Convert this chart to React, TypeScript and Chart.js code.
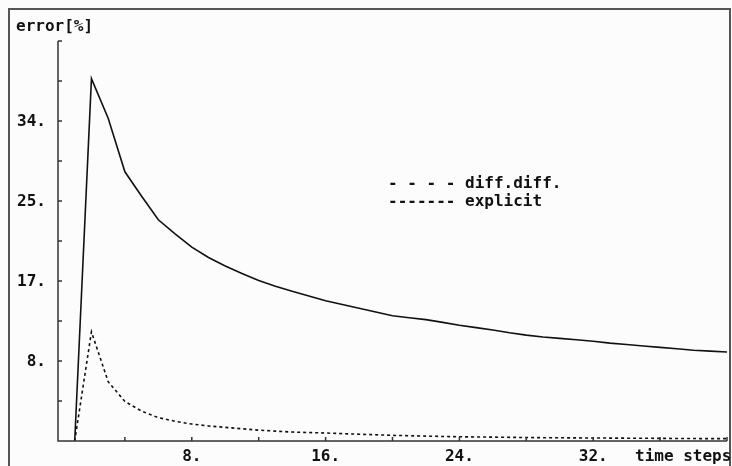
import React, { useEffect, useRef } from "react";
import { Chart, registerables } from "chart.js";

Chart.register(...registerables);

const timeSteps = [
  1, 2, 3, 4, 5, 6, 7, 8, 9, 10, 11, 12, 13, 14, 15, 16, 17, 18, 19, 20,
  21, 22, 23, 24, 25, 26, 27, 28, 29, 30, 31, 32, 33, 34, 35, 36, 37, 38, 39, 40,
];

const explicitError = [
  0, 38.5, 34.3, 28.6, 26.0, 23.5, 22.0, 20.6, 19.5, 18.6,
  17.8, 17.05, 16.45, 15.9, 15.4, 14.9, 14.5, 14.1, 13.7, 13.3,
  13.1, 12.9, 12.6, 12.3, 12.05, 11.8, 11.5, 11.25, 11.05, 10.9,
  10.75, 10.6, 10.4, 10.25, 10.1, 9.95, 9.8, 9.65, 9.55, 9.45,
];

const diffDiffError = [
  0, 11.6, 6.3, 4.2, 3.17, 2.48, 2.1, 1.8, 1.6, 1.45,
  1.3, 1.15, 1.05, 0.95, 0.9, 0.85, 0.78, 0.72, 0.66, 0.6,
  0.56, 0.52, 0.48, 0.45, 0.43, 0.41, 0.39, 0.37, 0.35, 0.34,
  0.33, 0.32, 0.31, 0.3, 0.29, 0.28, 0.27, 0.26, 0.25, 0.25,
];

// minor tick positions (data units)
const xTickValues = [0, 4, 8, 12, 16, 20, 24, 28, 32, 36, 40];
const yTickValues = [0, 4.25, 8.5, 12.75, 17, 21.25, 25.5, 29.75, 34, 38.25, 42.5];

// labelled ticks
const xLabelValues = [8, 16, 24, 32];
const xLabels = ["8.", "16.", "24.", "32."];
const yLabelValues = [8.5, 17, 25.5, 34];
const yLabels = ["8.", "17.", "25.", "34."];

const xAxisTitle = "time steps";
const yAxisTitle = "error[%]";
const legendLines = ["- - - - diff.diff.", "------- explicit"];

const FONT = "bold 16px 'DejaVu Sans Mono', 'Liberation Mono', monospace";
const INK = "#111111";
const AXIS = "#333333";

const decorPlugin = {
  id: "decor",
  beforeDraw(chart: any) {
    const ctx = chart.ctx;
    ctx.save();
    ctx.fillStyle = "#fcfcfc";
    ctx.fillRect(0, 0, chart.width, chart.height);
    // outer frame
    ctx.strokeStyle = "#555555";
    ctx.lineWidth = 2;
    ctx.beginPath();
    ctx.moveTo(9, 470);
    ctx.lineTo(9, 9);
    ctx.lineTo(730, 9);
    ctx.lineTo(730, 470);
    ctx.stroke();
    ctx.restore();
  },
  afterDraw(chart: any) {
    const ctx = chart.ctx;
    const xs = chart.scales.x;
    const ys = chart.scales.y;
    const x0 = xs.getPixelForValue(0);
    const y0 = ys.getPixelForValue(0);
    ctx.save();
    ctx.strokeStyle = AXIS;
    ctx.lineWidth = 1.5;
    ctx.beginPath();
    // axes
    ctx.moveTo(x0, ys.getPixelForValue(yTickValues[yTickValues.length - 1]));
    ctx.lineTo(x0, y0);
    ctx.lineTo(xs.getPixelForValue(xTickValues[xTickValues.length - 1]), y0);
    // inward ticks
    yTickValues.forEach((v) => {
      const p = ys.getPixelForValue(v);
      ctx.moveTo(x0, p);
      ctx.lineTo(x0 + 4, p);
    });
    xTickValues.forEach((v) => {
      const p = xs.getPixelForValue(v);
      ctx.moveTo(p, y0);
      ctx.lineTo(p, y0 - 4);
    });
    ctx.stroke();

    ctx.fillStyle = INK;
    ctx.font = FONT;
    ctx.textBaseline = "middle";
    ctx.textAlign = "right";
    yLabelValues.forEach((v, i) => {
      ctx.fillText(yLabels[i], 46, ys.getPixelForValue(v) + 1);
    });
    ctx.textAlign = "center";
    xLabelValues.forEach((v, i) => {
      ctx.fillText(xLabels[i], xs.getPixelForValue(v), 457);
    });
    ctx.textAlign = "left";
    ctx.fillText(xAxisTitle, 635, 457);
    ctx.fillText(yAxisTitle, 16, 27);
    ctx.fillText(legendLines[0], 388, 184);
    ctx.fillText(legendLines[1], 388, 202);
    ctx.restore();
  },
};

export default function App() {
  const ref = useRef<HTMLCanvasElement>(null);
  useEffect(() => {
    if (!ref.current) return;
    const chart = new Chart(ref.current, {
      type: "line",
      data: {
        datasets: [
          {
            label: "explicit",
            data: timeSteps.map((t, i) => ({ x: t, y: explicitError[i] })),
            borderColor: INK,
            borderWidth: 1.6,
            pointRadius: 0,
            tension: 0,
            fill: false,
          },
          {
            label: "diff.diff.",
            data: timeSteps.map((t, i) => ({ x: t, y: diffDiffError[i] })),
            borderColor: INK,
            borderWidth: 1.6,
            borderDash: [3, 3],
            pointRadius: 0,
            tension: 0,
            fill: false,
          },
        ],
      },
      options: {
        responsive: false,
        maintainAspectRatio: false,
        animation: false,
        layout: { padding: { left: 58, top: 41, right: 5, bottom: 25 } },
        plugins: { legend: { display: false }, tooltip: { enabled: false } },
        scales: {
          x: {
            type: "linear",
            min: 0,
            max: 40,
            ticks: { display: false },
            grid: { display: false, drawTicks: false },
            border: { display: false },
          },
          y: {
            type: "linear",
            min: 0,
            max: 42.5,
            ticks: { display: false },
            grid: { display: false, drawTicks: false },
            border: { display: false },
          },
        },
      },
      plugins: [decorPlugin],
    });
    return () => chart.destroy();
  }, []);
  return (
    <div style={{ position: "fixed", left: 0, top: 0, width: 732, height: 466, background: "#fcfcfc" }}>
      <canvas ref={ref} width={732} height={466} style={{ display: "block" }} />
    </div>
  );
}
